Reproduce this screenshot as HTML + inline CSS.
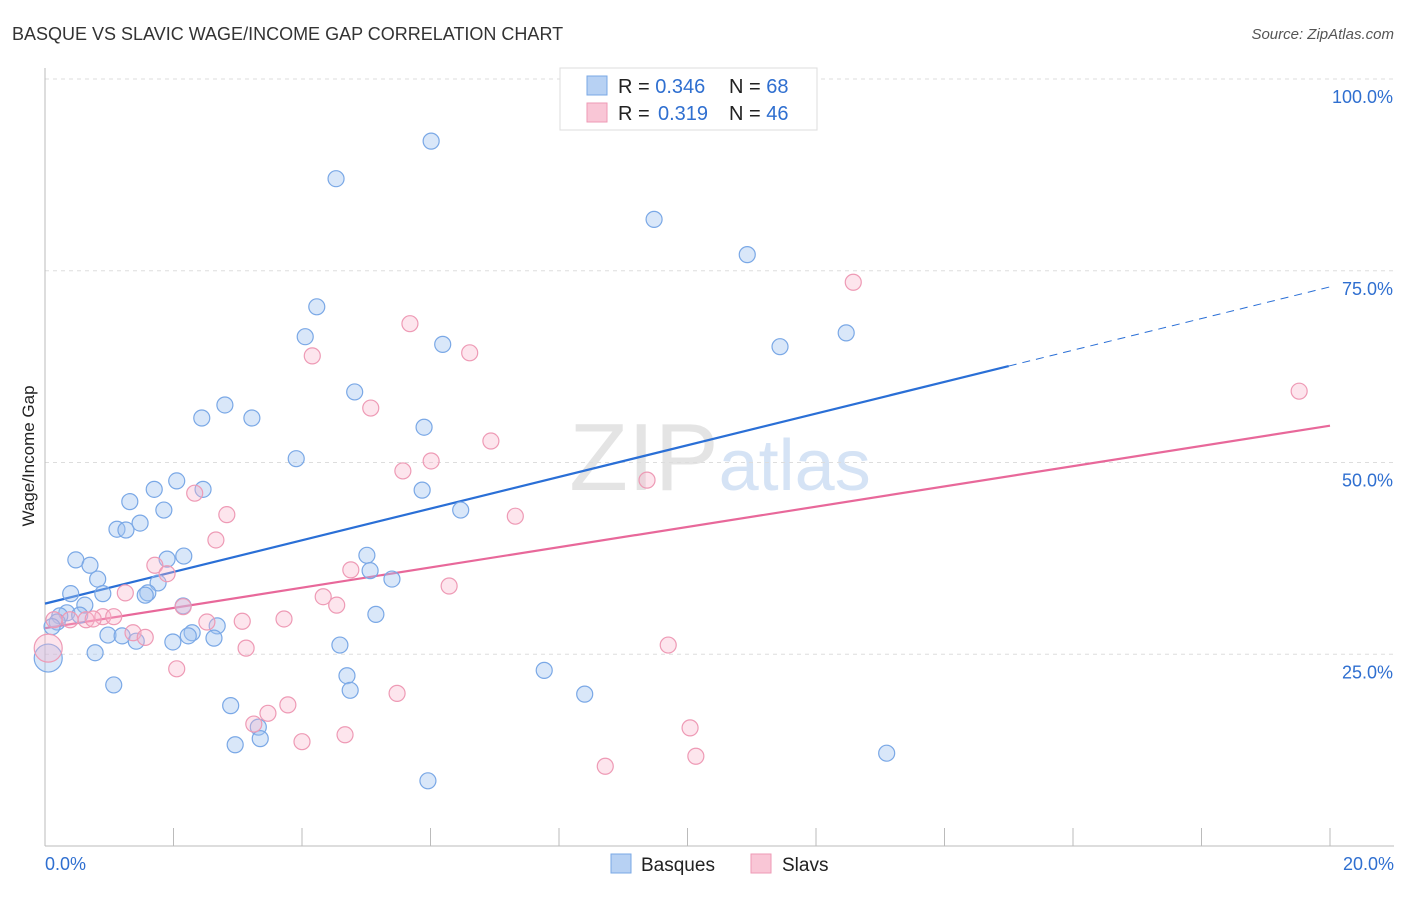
<!DOCTYPE html>
<html><head><meta charset="utf-8"><style>
body{margin:0;background:#fff;font-family:"Liberation Sans",sans-serif;}
svg text{font-family:"Liberation Sans",sans-serif;}
</style></head><body>
<svg id="chart" width="1406" height="892" xmlns="http://www.w3.org/2000/svg">
<text x="12" y="40" font-size="18" fill="#333">BASQUE VS SLAVIC WAGE/INCOME GAP CORRELATION CHART</text>
<text x="1394" y="39" font-size="15" fill="#555" text-anchor="end" font-style="italic">Source: ZipAtlas.com</text>
<text x="720" y="490" font-size="96" text-anchor="middle" fill="#e4e4e4" font-family="Liberation Serif">ZIP<tspan fill="#d5e3f5" font-family="Liberation Sans" font-size="72">atlas</tspan></text>
<text transform="translate(34,456) rotate(-90)" font-size="17" fill="#222" text-anchor="middle">Wage/Income Gap</text>
<g id="grid"></g><g id="axes"></g><g id="lines"></g><g id="pts"></g>
<g>
<rect x="560" y="68" width="257" height="62" fill="#fff" stroke="#ddd"/>
<rect x="587" y="76" width="20" height="19" fill="#b7d1f3" stroke="#7aa8e6"/>
<rect x="587" y="103" width="20" height="19" fill="#f9c6d6" stroke="#ee9ab5"/>
<text x="618" y="93" font-size="20" fill="#222">R = <tspan fill="#2f6fd0">0.346</tspan></text>
<text x="729" y="93" font-size="20" fill="#222">N = <tspan fill="#2f6fd0">68</tspan></text>
<text x="618" y="120" font-size="20" fill="#222">R =  <tspan fill="#2f6fd0" x="658">0.319</tspan></text>
<text x="729" y="120" font-size="20" fill="#222">N = <tspan fill="#2f6fd0">46</tspan></text>
</g>
<g>
<rect x="611" y="854" width="20" height="19" fill="#b7d1f3" stroke="#7aa8e6"/>
<text x="641" y="871" font-size="19" fill="#222">Basques</text>
<rect x="751" y="854" width="20" height="19" fill="#f9c6d6" stroke="#ee9ab5"/>
<text x="782" y="871" font-size="19" fill="#222">Slavs</text>
</g>
</svg>
<script>
const basqueX=[6.01,4.53,9.48,10.93,4.23,4.05,12.47,11.44,6.19,4.82,2.80,2.44,3.22,5.90,3.91,5.87,2.05,1.70,2.46,1.32,1.85,6.47,1.48,1.12,1.26,0.48,0.70,5.01,1.90,2.16,5.06,5.40,0.82,1.76,0.40,0.90,1.60,1.56,0.62,2.15,0.34,0.54,0.23,5.15,0.19,0.11,2.68,2.29,2.23,0.98,1.20,1.42,1.99,2.63,4.59,0.78,0.05,4.70,4.75,7.77,8.40,1.07,2.89,3.32,3.35,2.96,13.10,5.96];
const basqueY=[91.9,87.0,81.7,77.1,70.3,66.4,66.9,65.1,65.4,59.2,57.5,55.8,55.8,54.6,50.5,46.4,47.6,46.5,46.5,44.9,43.8,43.8,42.1,41.3,41.2,37.3,36.6,37.9,37.4,37.8,35.9,34.8,34.8,34.3,32.9,32.9,33.0,32.7,31.4,31.3,30.4,30.1,30.0,30.2,29.2,28.6,28.7,27.8,27.4,27.5,27.4,26.7,26.6,27.1,26.2,25.2,24.5,22.2,20.3,22.9,19.8,21.0,18.3,15.5,14.0,13.2,12.1,8.5];
const slavX=[12.58,5.68,4.16,6.61,19.52,5.07,6.94,6.01,5.57,9.37,2.33,2.83,7.32,2.66,1.71,1.90,4.76,6.29,1.25,4.33,2.15,4.54,0.14,0.39,0.64,0.90,1.07,0.75,2.52,3.07,3.72,1.37,1.56,3.13,9.70,2.05,5.48,3.78,3.47,3.25,10.04,4.67,4.00,10.13,8.72,0.05];
const slavY=[73.5,68.1,63.9,64.3,59.3,57.1,52.8,50.2,48.9,47.7,46.0,43.2,43.0,39.9,36.6,35.5,36.0,33.9,33.0,32.5,31.2,31.4,29.5,29.5,29.5,29.9,29.9,29.6,29.2,29.3,29.6,27.8,27.2,25.8,26.2,23.1,19.9,18.4,17.3,15.9,15.4,14.5,13.6,11.7,10.4,25.8];
const basqueBig=[56], slavBig=[45];
const blueTrend=[31.6,72.9], blueSolidEnd=15.0, pinkTrend=[28.4,54.8];
const yTicks=[25,50,75,100], yTickLabels=["25.0%","50.0%","75.0%","100.0%"];
const xTickCount=10;
const NS="http://www.w3.org/2000/svg";
const X=v=>45+v/20*1285, Y=v=>846-v*7.67;
function mk(tag,attrs,parent){const e=document.createElementNS(NS,tag);for(const k in attrs)e.setAttribute(k,attrs[k]);document.getElementById(parent).appendChild(e);return e;}
yTicks.forEach((t,i)=>{
 const l=mk('line',{x1:45,x2:1394,y1:Y(t),y2:Y(t),stroke:'#ddd','stroke-dasharray':'4,4'},'grid');
 
 
 const tx=mk('text',{x:1393,y:Y(t)+24,'font-size':18,fill:'#2f6fd0','text-anchor':'end'},'grid');tx.textContent=yTickLabels[i];
 
 
});
const ax=mk('line',{x1:45,x2:1394,y1:846,y2:846,stroke:'#bbb'},'axes');


const ay=mk('line',{x1:45,x2:45,y1:68,y2:846,stroke:'#bbb'},'axes');


for(let i=1;i<=xTickCount;i++){const t=mk('line',{x1:X(i*2),x2:X(i*2),y1:828,y2:846,stroke:'#bbb'},'axes');
 
 }
let t0=mk('text',{x:45,y:870,'font-size':18,fill:'#2f6fd0'},'axes');t0.textContent='0.0%';


let t1=mk('text',{x:1394,y:870,'font-size':18,fill:'#2f6fd0','text-anchor':'end'},'axes');t1.textContent='20.0%';


function draw(xs,ys,big,fill,stroke,name){xs.forEach((x,i)=>{const c=mk('circle',{cx:X(x),cy:Y(ys[i]),r:big.includes(i)?14:8,fill:fill,stroke:stroke,'stroke-width':1.2},'pts');
 
 });}
draw(basqueX,basqueY,basqueBig,'rgba(160,195,240,0.4)','#7aa8e6','basque-point');
draw(slavX,slavY,slavBig,'rgba(248,180,202,0.35)','#ee9ab5','slav-point');
const by=x=>blueTrend[0]+(blueTrend[1]-blueTrend[0])*x/20;
const l1=mk('line',{x1:X(0),y1:Y(by(0)),x2:X(blueSolidEnd),y2:Y(by(blueSolidEnd)),stroke:'#2a6fd6','stroke-width':2.2},'lines');


const l2=mk('line',{x1:X(blueSolidEnd),y1:Y(by(blueSolidEnd)),x2:X(20),y2:Y(by(20)),stroke:'#2a6fd6','stroke-width':1,'stroke-dasharray':'8,6'},'lines');


const l3=mk('line',{x1:X(0),y1:Y(pinkTrend[0]),x2:X(20),y2:Y(pinkTrend[1]),stroke:'#e8689a','stroke-width':2.2},'lines');


</script>
</body></html>
